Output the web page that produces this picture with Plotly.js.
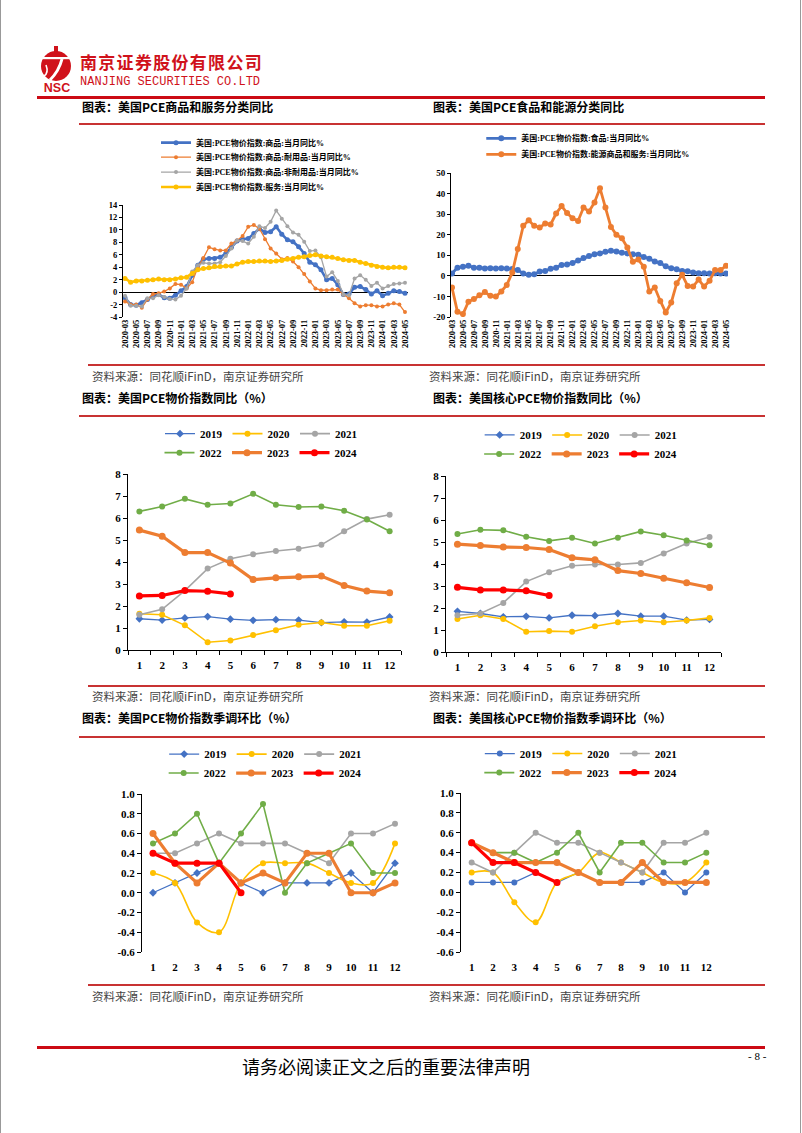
<!DOCTYPE html>
<html><head><meta charset="utf-8">
<script src="https://cdn.plot.ly/plotly-3.0.1.min.js"></script>
<style>
body{margin:0;background:#fff;}
#page{position:relative;width:802px;height:1133px;overflow:hidden;background:#fff;font-family:"Noto Sans CJK SC",sans-serif;}
.abs{position:absolute;white-space:nowrap;}
.hl{position:absolute;background:#C83232;height:2px;}
.title{font-size:12px;font-weight:700;color:#000;line-height:14px;}
.src{font-size:11.5px;color:#444;line-height:14px;font-weight:400;}
.chart{position:absolute;}
</style></head><body><div id="page">
<div class="abs" style="left:0;top:0;width:1px;height:1133px;background:#999"></div>
<div class="abs" style="left:800px;top:0;width:1px;height:1133px;background:#999"></div>
<svg class="abs" style="left:35px;top:45px" width="44" height="50" viewBox="0 0 44 50">
  <rect x="19" y="1" width="4" height="6" fill="#D0121B"/>
  <circle cx="21" cy="21" r="15" fill="#D0121B"/>
  <rect x="6" y="12" width="30" height="2.2" fill="#fff"/>
  <path d="M27 14 Q24 26 15 35" stroke="#fff" stroke-width="3" fill="none"/>
  <path d="M11 20 Q14 28 9 31" stroke="#fff" stroke-width="1.6" fill="none"/>
  <text x="22" y="47" text-anchor="middle" font-family="Liberation Sans, Arial" font-weight="bold" font-size="12.5" fill="#D0121B">NSC</text>
</svg>
<div class="abs" style="left:80px;top:52px;font-size:17px;line-height:20px;font-weight:700;color:#D0121B;letter-spacing:1.3px">南京证券股份有限公司</div>
<div class="abs" style="left:80px;top:75px;font-size:12px;line-height:14px;font-family:'Liberation Mono',monospace;color:#D0121B">NANJING SECURITIES CO.LTD</div>
<div class="abs" style="left:37px;top:96px;width:728px;height:3px;background:#CC0A14"></div>

<div class="abs title" style="left:82px;top:100px">图表：美国PCE商品和服务分类同比</div>
<div class="abs title" style="left:433px;top:100px">图表：美国PCE食品和能源分类同比</div>
<div class="hl" style="left:79px;top:123px;width:686px"></div>

<div class="hl" style="left:88px;top:364px;width:677px"></div>
<div class="abs src" style="left:92px;top:369px">资料来源：同花顺iFinD，南京证券研究所</div>
<div class="abs src" style="left:429px;top:369px">资料来源：同花顺iFinD，南京证券研究所</div>
<div class="abs title" style="left:82px;top:391px">图表：美国PCE物价指数同比（%）</div>
<div class="abs title" style="left:433px;top:391px">图表：美国核心PCE物价指数同比（%）</div>
<div class="hl" style="left:79px;top:415px;width:686px"></div>

<div class="hl" style="left:88px;top:685px;width:677px"></div>
<div class="abs src" style="left:92px;top:689px">资料来源：同花顺iFinD，南京证券研究所</div>
<div class="abs src" style="left:429px;top:689px">资料来源：同花顺iFinD，南京证券研究所</div>
<div class="abs title" style="left:82px;top:711px">图表：美国PCE物价指数季调环比（%）</div>
<div class="abs title" style="left:433px;top:711px">图表：美国核心PCE物价指数季调环比（%）</div>
<div class="hl" style="left:79px;top:736px;width:686px"></div>

<div class="hl" style="left:88px;top:984px;width:677px"></div>
<div class="abs src" style="left:92px;top:989px">资料来源：同花顺iFinD，南京证券研究所</div>
<div class="abs src" style="left:429px;top:989px">资料来源：同花顺iFinD，南京证券研究所</div>

<div class="abs" style="left:37px;top:1046px;width:728px;height:3px;background:#CC0A14"></div>
<div class="abs" style="left:0;top:1055px;width:772px;text-align:center;font-size:18px;line-height:22px;color:#000">请务必阅读正文之后的重要法律声明</div>
<div class="abs" style="left:748px;top:1050px;font-size:11px;font-family:'Liberation Serif',serif;color:#000">- 8 -</div>

<div id="c1" class="chart"></div>
<div id="c2" class="chart"></div>
<div id="c3" class="chart"></div>
<div id="c4" class="chart"></div>
<div id="c5" class="chart"></div>
<div id="c6" class="chart"></div>
</div>
<script>
// ---------------- DATA ----------------
const dates = ['2020-03','2020-04','2020-05','2020-06','2020-07','2020-08','2020-09','2020-10','2020-11','2020-12',
 '2021-01','2021-02','2021-03','2021-04','2021-05','2021-06','2021-07','2021-08','2021-09','2021-10','2021-11','2021-12',
 '2022-01','2022-02','2022-03','2022-04','2022-05','2022-06','2022-07','2022-08','2022-09','2022-10','2022-11','2022-12',
 '2023-01','2023-02','2023-03','2023-04','2023-05','2023-06','2023-07','2023-08','2023-09','2023-10','2023-11','2023-12',
 '2024-01','2024-02','2024-03','2024-04','2024-05'];

const goods = [-0.9,-2.0,-2.1,-1.7,-1.2,-0.6,-0.4,-0.9,-1.0,-0.5, 0.2,0.9,2.7,4.3,5.3,5.4,5.4,5.6,6.2,7.2,
 8.2,8.5,8.6,9.4,10.2,9.6,9.7,10.5,9.3,8.4, 8.1,7.3,6.2,4.8,4.4,3.6,2.0,2.2,1.2,-0.4,
 -0.3,0.8,0.9,0.4,-0.3,0.2,-0.6,-0.2,0.2,0.1,-0.2];
const durable = [-1.5,-2.0,-2.0,-2.5,-1.2,-0.3,-0.2,0.1,0.6,1.3, 1.2,0.6,1.6,4.0,5.5,7.2,6.9,6.7,6.7,7.8,
 8.3,9.0,10.5,10.8,10.2,8.5,7.0,6.2,5.3,5.5, 4.9,4.0,2.9,1.7,0.6,0.3,0.3,0.4,0.4,-0.4,
 -1.0,-1.8,-2.3,-2.1,-2.1,-2.3,-2.3,-2.0,-1.8,-2.0,-3.2];
const nondurable = [-0.6,-2.2,-2.2,-2.3,-1.0,-1.0,-0.5,-0.8,-1.1,-1.2, -0.6,0.6,3.3,4.3,4.7,4.6,4.6,4.8,5.8,7.0,
 8.3,8.2,7.8,8.9,10.6,10.3,11.3,13.1,11.8,10.6, 9.6,9.2,8.1,6.6,6.7,5.6,2.5,3.2,1.8,-0.4,
 -0.5,2.2,2.7,2.0,1.0,1.5,0.6,1.0,1.3,1.4,1.5];
const services = [2.2,1.6,1.8,1.8,1.9,2.0,2.1,2.0,2.0,2.1, 2.3,2.4,3.0,3.6,3.8,3.9,4.1,4.1,4.2,4.2,
 4.5,4.8,4.9,4.9,5.0,5.0,4.9,5.0,5.1,5.3, 5.4,5.6,5.7,5.9,6.0,5.8,5.7,5.6,5.4,5.2,
 5.1,5.1,4.8,4.6,4.3,4.1,4.0,3.9,4.0,4.0,3.9];

const food = [1.1,4.0,4.4,4.9,4.0,3.9,3.6,3.7,3.6,3.7, 3.6,3.3,2.9,1.1,0.5,0.8,2.1,2.4,3.4,4.0,
 5.3,5.5,6.3,7.5,8.7,9.6,10.5,10.9,11.7,12.2, 11.8,11.2,10.9,10.5,10.2,9.2,8.3,7.0,6.2,4.7,
 3.7,3.2,2.4,2.3,1.6,1.3,1.3,1.1,1.3,1.1,1.1];
const energy = [-5.7,-17.5,-18.6,-12.6,-11.3,-9.4,-7.9,-9.7,-10.0,-7.6, -4.4,1.6,13.0,24.3,27.0,24.3,23.5,25.4,25.0,30.3,
 33.9,30.5,28.0,26.7,33.2,31.3,35.7,42.6,33.2,23.8, 20.0,18.3,13.8,6.8,7.9,4.4,-7.6,-5.7,-12.2,-17.8,
 -13.0,-3.6,0.5,-4.9,-5.2,-1.8,-5.2,-2.4,2.8,2.9,4.9];

const months = [1,2,3,4,5,6,7,8,9,10,11,12];
const years = ['2019','2020','2021','2022','2023','2024'];

const pce2019 = [1.42,1.36,1.46,1.52,1.40,1.35,1.38,1.36,1.24,1.28,1.27,1.50];
const pce2020 = [1.65,1.60,1.12,0.35,0.43,0.68,0.90,1.15,1.25,1.10,1.10,1.33];
const pce2021 = [1.60,1.85,2.70,3.70,4.15,4.35,4.50,4.60,4.78,5.40,5.95,6.15];
const pce2022 = [6.30,6.52,6.87,6.60,6.66,7.10,6.60,6.50,6.52,6.33,5.93,5.40];
const pce2023 = [5.45,5.17,4.43,4.43,3.95,3.20,3.28,3.33,3.36,2.93,2.68,2.60];
const pce2024 = [2.46,2.48,2.70,2.67,2.55];

const core2019 = [1.85,1.75,1.60,1.62,1.55,1.67,1.65,1.75,1.63,1.63,1.45,1.48];
const core2020 = [1.50,1.67,1.50,0.92,0.95,0.92,1.17,1.35,1.43,1.35,1.43,1.55];
const core2021 = [1.67,1.75,2.23,3.20,3.63,3.92,3.98,3.98,4.05,4.48,4.93,5.23];
const core2022 = [5.36,5.56,5.53,5.24,5.05,5.19,4.93,5.19,5.48,5.31,5.07,4.85];
const core2023 = [4.90,4.84,4.77,4.75,4.66,4.28,4.19,3.70,3.57,3.35,3.15,2.93];
const core2024 = [2.94,2.82,2.82,2.78,2.57];

const mom2019 = [0.0,0.1,0.2,0.3,0.1,0.0,0.1,0.1,0.1,0.2,0.0,0.3];
const mom2020 = [0.2,0.1,-0.3,-0.4,0.1,0.3,0.3,0.3,0.2,0.1,0.1,0.5];
const mom2021 = [0.4,0.4,0.5,0.6,0.5,0.5,0.5,0.4,0.3,0.6,0.6,0.7];
const mom2022 = [0.5,0.6,0.8,0.3,0.6,0.9,0.0,0.3,0.4,0.5,0.2,0.2];
const mom2023 = [0.6,0.3,0.1,0.3,0.1,0.2,0.1,0.4,0.4,0.0,0.0,0.1];
const mom2024 = [0.4,0.3,0.3,0.3,0.0];

const cmom2019 = [0.1,0.1,0.1,0.2,0.1,0.2,0.1,0.1,0.1,0.2,0.0,0.2];
const cmom2020 = [0.2,0.2,-0.1,-0.3,0.1,0.2,0.4,0.3,0.2,0.1,0.1,0.3];
const cmom2021 = [0.3,0.2,0.4,0.6,0.5,0.5,0.4,0.3,0.2,0.5,0.5,0.6];
const cmom2022 = [0.5,0.4,0.4,0.3,0.4,0.6,0.2,0.5,0.5,0.3,0.3,0.4];
const cmom2023 = [0.5,0.4,0.3,0.3,0.3,0.2,0.1,0.1,0.3,0.1,0.1,0.1];
const cmom2024 = [0.5,0.3,0.3,0.2,0.1];

const yTicks1 = [-4,-2,0,2,4,6,8,10,12,14];
const yTicks2 = [-20,-10,0,10,20,30,40,50];
const yTicksYoY = [0,1,2,3,4,5,6,7,8];
const yTicksMoM = [-0.6,-0.4,-0.2,0.0,0.2,0.4,0.6,0.8,1.0];

const names1 = ['美国:PCE物价指数:商品:当月同比%','美国:PCE物价指数:商品:耐用品:当月同比%','美国:PCE物价指数:商品:非耐用品:当月同比%','美国:PCE物价指数:服务:当月同比%'];
const names2 = ['美国:PCE物价指数:食品:当月同比%','美国:PCE物价指数:能源商品和服务:当月同比%'];

// ---------------- STYLE / LAYOUT ----------------
const SERIF = '"Liberation Serif", "Times New Roman", "Noto Sans CJK SC", serif';
const COL = {blue:'#4472C4', orange:'#ED7D31', gray:'#A5A5A5', yellow:'#FFC000', green:'#70AD47', red:'#FF0000'};

function legendAt(px, py, plot, anchor, size){
  return {orientation:'h', x:(px-plot.x0)/(plot.x1-plot.x0), y:(plot.y1-py)/(plot.y1-plot.y0),
    xanchor:anchor, yanchor:'middle', bgcolor:'rgba(0,0,0,0)', borderwidth:0,
    font:{family:SERIF, size:size, weight:700, color:'#000'}};
}
function yAxis(range, vals, dec, size){
  return {range:range, tickmode:'array', tickvals:vals, ticktext:vals.map(v=>v.toFixed(dec)),
    showline:true, linecolor:'#000', linewidth:1, ticks:'outside', ticklen:3, tickwidth:1, tickcolor:'#000',
    showgrid:false, zeroline:false, tickfont:{family:SERIF, size:size, weight:700, color:'#000'}};
}
function draw(id, box, plot, traces, extra){
  const el = document.getElementById(id);
  el.style.left = box.x+'px'; el.style.top = box.y+'px';
  el.style.width = box.w+'px'; el.style.height = box.h+'px';
  const layout = Object.assign({
    width:box.w, height:box.h,
    margin:{l:plot.x0-box.x, r:box.x+box.w-plot.x1, t:plot.y0-box.y, b:box.y+box.h-plot.y1, pad:0, autoexpand:false},
    paper_bgcolor:'rgba(0,0,0,0)', plot_bgcolor:'rgba(0,0,0,0)',
    font:{family:SERIF, size:11, color:'#000'}, hovermode:false, showlegend:true
  }, extra);
  Plotly.newPlot(el, traces, layout, {staticPlot:true, displayModeBar:false});
}
function line(x, y, name, color, width, msize, legend, extra){
  return Object.assign({type:'scatter', mode:'lines+markers', x:x, y:y, name:name, legend:legend,
    line:{color:color, width:width}, marker:{color:color, size:msize, symbol:'circle'}}, extra||{});
}

// Chart 1
const B1 = {x:80, y:128, w:340, h:232}, P1 = {x0:123, x1:408, y0:205, y1:317.3};
const xDate = (range) => ({type:'category', range:range, tickmode:'array', tickvals:dates.filter((d,i)=>i%2===0),
  tickangle:-90, ticks:'', showline:false, showgrid:false, zeroline:false,
  tickfont:{family:SERIF, size:8.5, weight:700, color:'#000'}});
const y1 = Object.assign(yAxis([-4,14], yTicks1, 0, 8.5), {zeroline:true, zerolinecolor:'#000', zerolinewidth:1});
draw('c1', B1, P1, [
  line(dates, goods, names1[0], COL.blue, 2.6, 5, 'legend'),
  line(dates, durable, names1[1], COL.orange, 1.3, 4, 'legend2'),
  line(dates, nondurable, names1[2], COL.gray, 1.3, 4, 'legend3'),
  line(dates, services, names1[3], COL.yellow, 2.6, 5, 'legend4')
], {xaxis:xDate([-0.36,50.54]), yaxis:y1,
  legend:legendAt(156,142.5,P1,'left',8), legend2:legendAt(156,157,P1,'left',8),
  legend3:legendAt(156,172,P1,'left',8), legend4:legendAt(156,187,P1,'left',8)});

// Chart 2
const B2 = {x:420, y:128, w:340, h:232}, P2 = {x0:450.7, x1:728, y0:172.7, y1:316.7};
const y2 = Object.assign(yAxis([-20,50], yTicks2, 0, 9), {zeroline:true, zerolinecolor:'#000', zerolinewidth:1});
draw('c2', B2, P2, [
  line(dates, food, names2[0], COL.blue, 2.8, 6, 'legend'),
  line(dates, energy, names2[1], COL.orange, 2.8, 6, 'legend2')
], {xaxis:xDate([-0.18,50.36]), yaxis:y2,
  legend:legendAt(481,138,P2,'left',8), legend2:legendAt(481,154,P2,'left',8)});

// Year charts
function yearTraces(series, sym2019, smooth2020){
  const st = [
    {c:COL.blue, w:1.3, s:sym2019==='diamond'?6:6, sym:sym2019},
    {c:COL.yellow, w:1.6, s:6, sym:'circle'},
    {c:COL.gray, w:1.6, s:6, sym:'circle'},
    {c:COL.green, w:1.6, s:6, sym:'circle'},
    {c:COL.orange, w:3.2, s:7, sym:'circle'},
    {c:COL.red, w:3.2, s:7, sym:'circle'}];
  return series.map((y,k)=>{
    const t = line(months.slice(0,y.length), y, years[k], st[k].c, st[k].w, st[k].s, k<3?'legend':'legend2');
    t.marker.symbol = st[k].sym;
    if(k===1 && smooth2020){ t.line.shape='spline'; t.line.smoothing=1; }
    return t;
  });
}
const bounds = months.map(m=>m-0.5).concat([12.5]);
function xMonths(){
  return {range:[0.5,12.5], tickmode:'array', tickvals:months, ticktext:months.map(String),
    ticks:'outside', ticklen:5, tickcolor:'rgba(0,0,0,0)', showline:true, linecolor:'#000', linewidth:1,
    showgrid:false, zeroline:false, tickfont:{family:SERIF, size:11, weight:700, color:'#000'},
    minor:{ticks:'outside', ticklen:4, tickwidth:1, tickcolor:'#000', tickmode:'array', tickvals:bounds, showgrid:false}};
}

const B3 = {x:80, y:420, w:340, h:262}, P3 = {x0:128.3, x1:400.7, y0:474.3, y1:650};
const y3 = yAxis([0,8], yTicksYoY, 0, 11); y3.ticklen = 4;
draw('c3', B3, P3, yearTraces([pce2019,pce2020,pce2021,pce2022,pce2023,pce2024],'diamond',false),
  {xaxis:xMonths(), yaxis:y3, legend:legendAt(261,434,P3,'center',11), legend2:legendAt(261,453,P3,'center',11)});

const B4 = {x:420, y:420, w:340, h:262}, P4 = {x0:446.2, x1:721.5, y0:476, y1:651.7};
const y4 = yAxis([0,8], yTicksYoY, 0, 11); y4.ticklen = 4;
draw('c4', B4, P4, yearTraces([core2019,core2020,core2021,core2022,core2023,core2024],'diamond',false),
  {xaxis:xMonths(), yaxis:y4, legend:legendAt(581,435,P4,'center',11), legend2:legendAt(581,454,P4,'center',11)});

function xMoM(){
  const ax = xMonths(); ax.showline = false; ax.minor = {ticks:''};
  return ax;
}
function xZero(){
  return {overlaying:'x', anchor:'free', position:(0-(-0.6))/1.6, range:[0.5,12.5], showline:true, linecolor:'#000', linewidth:1,
    showticklabels:false, ticks:'', showgrid:false, zeroline:false,
    minor:{ticks:'outside', ticklen:4, tickwidth:1, tickcolor:'#000', tickmode:'array', tickvals:bounds, showgrid:false}};
}
const B5 = {x:80, y:740, w:340, h:242}, P5 = {x0:141.7, x1:406, y0:794, y1:952.3};
const y5 = yAxis([-0.6,1.0], yTicksMoM, 1, 11); y5.ticklen = 4;
draw('c5', B5, P5, yearTraces([mom2019,mom2020,mom2021,mom2022,mom2023,mom2024],'diamond',true),
  {xaxis:xMoM(), xaxis2:xZero(), yaxis:y5, legend:legendAt(265,754,P5,'center',11), legend2:legendAt(265,773,P5,'center',11)});

const B6 = {x:420, y:740, w:340, h:242}, P6 = {x0:461, x1:717.4, y0:793.3, y1:951.7};
const y6 = yAxis([-0.6,1.0], yTicksMoM, 1, 11); y6.ticklen = 4;
draw('c6', B6, P6, yearTraces([cmom2019,cmom2020,cmom2021,cmom2022,cmom2023,cmom2024],'circle',true),
  {xaxis:xMoM(), xaxis2:xZero(), yaxis:y6, legend:legendAt(581,754,P6,'center',11), legend2:legendAt(581,773,P6,'center',11)});
</script>
</body></html>
